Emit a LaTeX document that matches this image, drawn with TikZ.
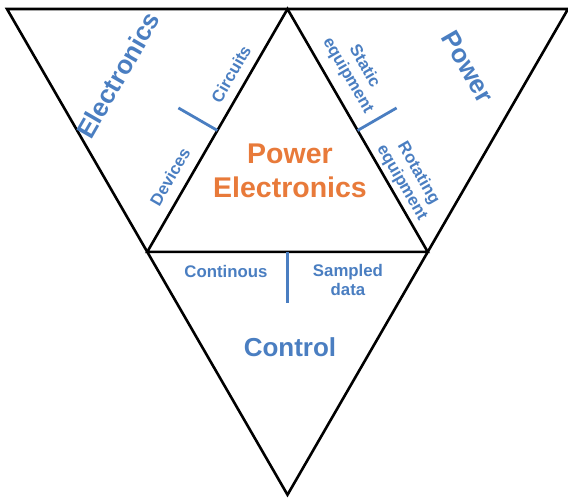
\documentclass[tikz,border=0pt]{standalone}
\usepackage{fontspec}
\setmainfont{Liberation Sans}
\usetikzlibrary{calc}
\definecolor{fieldblue}{RGB}{74,126,193}
\definecolor{coreorange}{RGB}{232,122,58}
\tikzset{
    edge/.style={draw=black, line width=2.6pt, line join=miter},
    divider/.style={draw=fieldblue, line width=2.8pt},
    fieldlabel/.style={text=fieldblue, font=\bfseries\fontsize{26}{31}\selectfont, inner sep=0pt},
    sublabel/.style={text=fieldblue, align=center, inner sep=0pt,
        font=\bfseries\fontsize{16.8}{19}\selectfont},
    corelabel/.style={text=coreorange, align=center, inner sep=0pt,
        font=\bfseries\fontsize{28.5}{34}\selectfont}
}

\begin{document}
\begin{tikzpicture}[x=1pt, y=-1pt]
    \useasboundingbox (0,0) rectangle (568,502);

    % Outer triangle
    \coordinate (tl) at (7,9);
    \coordinate (tr) at (568,9);
    \coordinate (bot) at (287.5,494.8);

    % Inner triangle (edge midpoints)
    \coordinate (top) at ($(tl)!0.5!(tr)$);
    \coordinate (left) at ($(tl)!0.5!(bot)$);
    \coordinate (right) at ($(tr)!0.5!(bot)$);

    \draw[edge] (tl) -- (tr) -- (bot) -- cycle;
    \draw[edge] (top) -- (left) -- (right) -- cycle;

    % Dividers
    \coordinate (lmid) at ($(left)!0.5!(top)$);
    \coordinate (rmid) at ($(right)!0.5!(top)$);
    \coordinate (bmid) at ($(left)!0.5!(right)$);
    \coordinate (lend) at ($(lmid)!45pt!90:(top)$);
    \coordinate (rend) at ($(rmid)!45pt!-90:(top)$);
    \coordinate (bend) at ($(bmid)!51pt!-90:(right)$);
    \draw[divider] (lmid) -- (lend);
    \draw[divider] (rmid) -- (rend);
    \draw[divider] (bmid) -- (bend);

    % Labels
    \node[corelabel] (core) at (290,171) {Power\\Electronics};
    \node[fieldlabel, rotate=60] (elec) at (118,75) {Electronics};
    \node[sublabel, rotate=60] (circ) at (231,74) {Circuits};
    \node[sublabel, rotate=60] (dev) at (170,177) {Devices};
    \node[fieldlabel, rotate=-60] (pow) at (468,67) {Power};
    \node[sublabel, rotate=-60] (stat) at (356,71) {Static\\equipment};
    \node[sublabel, rotate=-60] (rot) at (410,178) {Rotating\\equipment};
    \node[sublabel] (cont) at (226,271) {Continous};
    \node[sublabel] (samp) at (348,280) {Sampled\\data};
    \node[fieldlabel] (ctrl) at (290,347) {Control};
\end{tikzpicture}
\end{document}
